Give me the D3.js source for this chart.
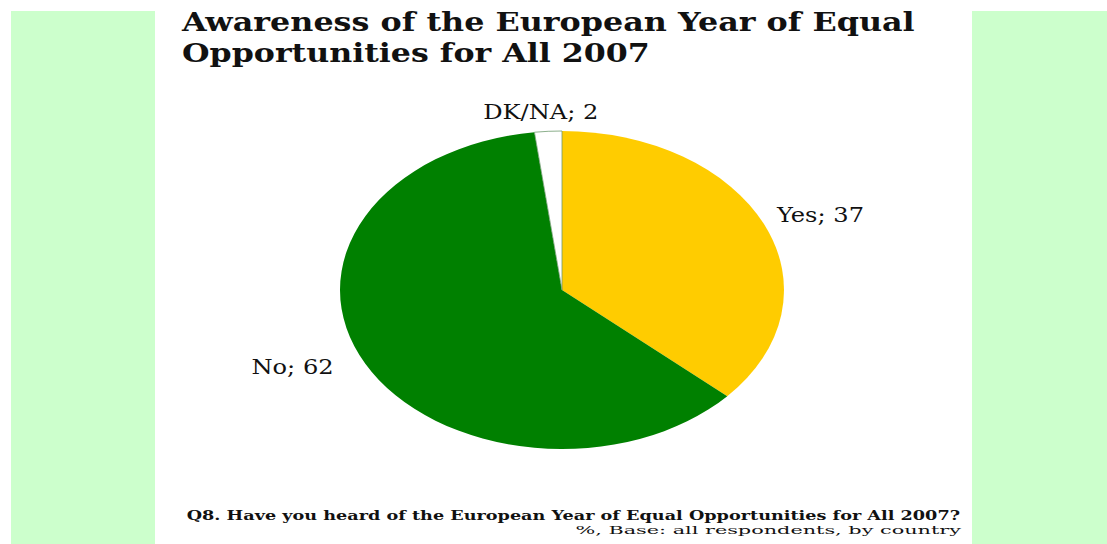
<!DOCTYPE html>
<html>
<head>
<meta charset="utf-8">
<script src="https://cdn.jsdelivr.net/npm/d3@7"></script>
<style>
  html, body { margin: 0; padding: 0; background: #ffffff; }
  svg { display: block; }
</style>
</head>
<body>
<svg id="chart" width="1107" height="544"></svg>
<script>
// Survey answers (percent of respondents)
const categories = ["Yes", "No", "DK/NA"];
const values = [37, 62, 2];
const sliceColors = ["#FFCC00", "#008000", "#FFFFFF"];

const titleLines = [
  "Awareness of the European Year of Equal",
  "Opportunities for All 2007"
];
const questionText = "Q8. Have you heard of the European Year of Equal Opportunities for All 2007?";
const baseText = "%, Base:  all respondents, by country";

const W = 1107, H = 544;
const svg = d3.select("#chart");
const serif = "'DejaVu Serif', 'Liberation Serif', serif";

// page background and the two side bands
svg.append("rect").attr("width", W).attr("height", H).attr("fill", "#ffffff");
svg.append("rect").attr("x", 11).attr("y", 11).attr("width", 144).attr("height", H - 11).attr("fill", "#CCFFCC");
svg.append("rect").attr("x", 972).attr("y", 11).attr("width", W - 972).attr("height", H - 11).attr("fill", "#CCFFCC");

// place a text at (x, y) and widen its glyphs so that it spans the given width
function stretchedText(parent, str, x, y, width) {
  const t = parent.append("text").text(str);
  const natural = t.node().getComputedTextLength();
  t.attr("transform", `translate(${x},${y}) scale(${width / natural},1)`);
  return t;
}

// title
const title = svg.append("g").attr("font-family", serif).attr("font-weight", "bold")
  .attr("font-size", 26).attr("fill", "#111");
const titleWidths = [733, 468];
titleLines.forEach((t, i) => stretchedText(title, t, 182, 31 + i * 31, titleWidths[i]));

// pie, drawn on a circle then widened horizontally into an ellipse
const cx = 562, cy = 290, ry = 159, rx = 222;
const sx = rx / ry;

const pie = d3.pie().sort(null).value(d => d)(values);
const arc = d3.arc().innerRadius(0).outerRadius(ry);

const pieG = svg.append("g").attr("transform", `translate(${cx},${cy}) scale(${sx},1)`);
pieG.selectAll("path").data(pie).join("path")
  .attr("d", arc)
  .attr("fill", (d, i) => sliceColors[i])
  .attr("stroke", (d, i) => i === 2 ? "#6f9a6f" : "none")
  .attr("stroke-width", 0.8)
  .attr("vector-effect", "non-scaling-stroke");

// slice labels placed just outside the rim along each slice's middle angle
const labelG = svg.append("g").attr("font-family", serif).attr("font-size", 21).attr("fill", "#111");
const labelScale = 1.1;
const labelStretch = 1.15;
pie.forEach((d, i) => {
  const a = (d.startAngle + d.endAngle) / 2;
  const s = Math.sin(a);
  const x = cx + s * rx * labelScale + (s > 0.2 ? -8 : s < -0.2 ? -12 : -6);
  const y = cy - Math.cos(a) * ry * labelScale - 4;
  const anchor = Math.abs(s) < 0.2 ? "middle" : (s > 0 ? "start" : "end");
  labelG.append("text")
    .attr("transform", `translate(${x},${y}) scale(${labelStretch},1)`)
    .attr("text-anchor", anchor)
    .attr("dy", "0.35em")
    .text(`${categories[i]}; ${values[i]}`);
});

// question and base note
const question = svg.append("g").attr("font-family", serif).attr("fill", "#111")
  .attr("text-anchor", "end").attr("font-weight", "bold").attr("font-size", 13);
stretchedText(question, questionText, 960, 520, 774);
const base = svg.append("g").attr("font-family", serif).attr("fill", "#111")
  .attr("text-anchor", "end").attr("font-size", 11.5);
stretchedText(base, baseText, 961, 534, 386);
</script>
</body>
</html>
